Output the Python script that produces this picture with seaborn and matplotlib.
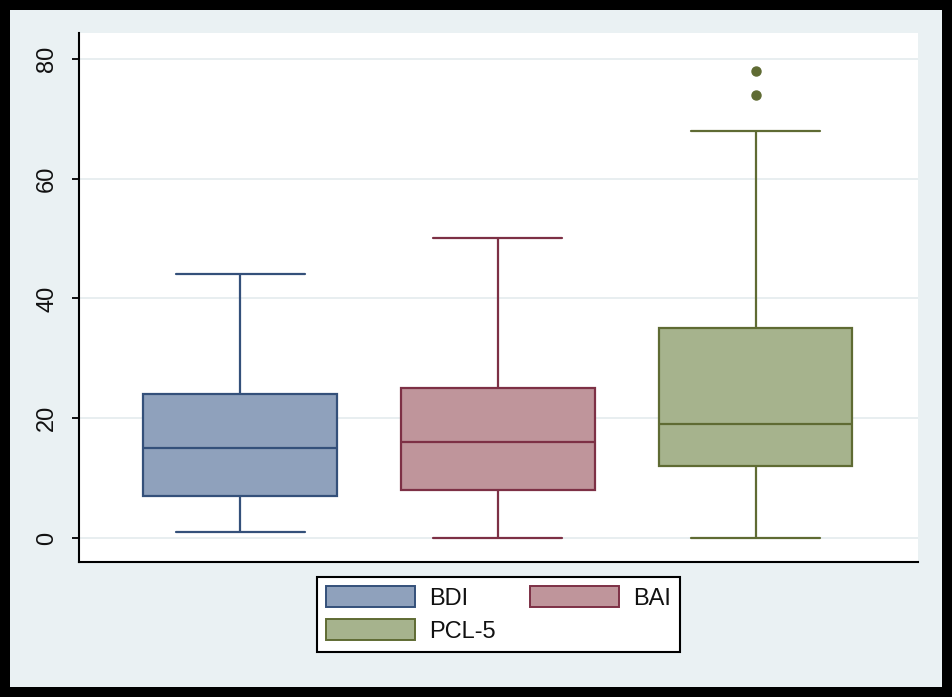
import matplotlib
matplotlib.use("Agg")
import matplotlib.pyplot as plt
import seaborn as sns
import pandas as pd
from matplotlib.patches import Patch, Rectangle

# ---- data ----
categories = ["BDI", "BAI", "PCL-5"]
bdi_scores = [1, 7, 15, 24, 44]
bai_scores = [0, 8, 16, 25, 50]
pcl5_scores = [0, 12, 12, 12, 19, 19, 19, 35, 35, 35, 68, 74, 78]
y_ticks = [0, 20, 40, 60, 80]
y_tick_labels = ["0", "20", "40", "60", "80"]

fill_colors = ["#8fa1bc", "#bf959b", "#a6b38d"]
edge_colors = ["#34507a", "#7d3045", "#5f6b33"]

groups = {"BDI": bdi_scores, "BAI": bai_scores, "PCL-5": pcl5_scores}
df = pd.DataFrame(
    [(g, v) for g, vals in groups.items() for v in vals],
    columns=["group", "score"],
)

sns.set_style("white")
plt.rcParams["font.family"] = ["Liberation Sans", "DejaVu Sans"]

W, H = 952, 697
fig = plt.figure(figsize=(W / 100, H / 100), dpi=100, facecolor="#eaf1f3")
ax = fig.add_axes([79 / W, 1 - 562 / H, (918 - 79) / W, (562 - 33) / H])
ax.set_facecolor("white")

for cat, fc, ec in zip(categories, fill_colors, edge_colors):
    sns.boxplot(
        data=df[df["group"] == cat], x="group", y="score", order=categories,
        color=fc, linecolor=ec, linewidth=1.6, width=0.75, saturation=1,
        fliersize=6.5,
        flierprops=dict(marker="o", markerfacecolor=ec, markeredgecolor=ec),
        ax=ax,
    )

# widen whisker caps to half the category spacing (as in the reference)
for cont in ax.containers:
    for cap in getattr(cont, "caps", []):
        xs = cap.get_xdata()
        c = (xs[0] + xs[-1]) / 2
        cap.set_xdata([c - 0.25, c + 0.25])

ax.set_xlim(-0.625, 2.63)
ax.set_ylim(-4, 84.3)
ax.set_xticks([])
ax.set_yticks(y_ticks)
ax.set_yticklabels(y_tick_labels)
ax.set_xlabel("")
ax.set_ylabel("")
ax.yaxis.grid(True, color="#e4ebee", lw=1.2)
ax.xaxis.grid(False)
ax.set_axisbelow(True)
for s in ["top", "right"]:
    ax.spines[s].set_visible(False)
for s in ["left", "bottom"]:
    ax.spines[s].set_color("black")
    ax.spines[s].set_linewidth(1.5)
ax.tick_params(axis="y", length=5, width=1.3, pad=10, labelsize=17,
               labelrotation=90, left=True, colors="black")
for lab in ax.get_yticklabels():
    lab.set_va("center")
    lab.set_color("#111111")

# legend: order so rows read BDI, BAI / PCL-5
handles = [Patch(facecolor=fill_colors[i], edgecolor=edge_colors[i], lw=1.4)
           for i in range(3)]
order = [0, 2, 1]
leg = fig.legend(
    [handles[i] for i in order], [categories[i] for i in order],
    loc="center", bbox_to_anchor=(498.5 / W, 1 - 614.5 / H), ncol=2,
    fontsize=17, frameon=True, fancybox=False, edgecolor="black",
    facecolor="white", framealpha=1, handlelength=3.75, handleheight=1.0,
    handletextpad=0.6, columnspacing=1.45, labelspacing=0.4, borderpad=0.4,
)
leg.get_frame().set_linewidth(1.5)
for t in leg.get_texts():
    t.set_color("#111111")

# outer thick black frame
fig.patches.append(Rectangle((0, 0), 1, 1, transform=fig.transFigure,
                             fill=False, edgecolor="black", lw=14.4))

fig.savefig("out.png", dpi=100, facecolor=fig.get_facecolor())
